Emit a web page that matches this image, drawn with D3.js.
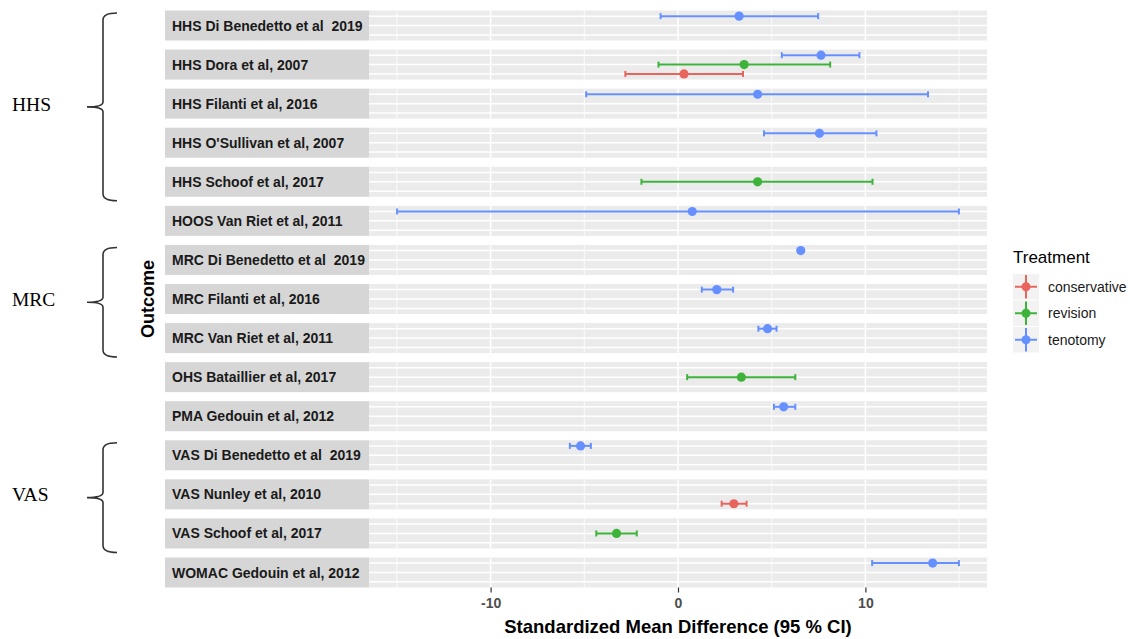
<!DOCTYPE html>
<html>
<head>
<meta charset="utf-8">
<script src="https://cdn.jsdelivr.net/npm/d3@7"></script>
<style>
  body { margin: 0; background: #fff; }
  svg text { font-family: "Liberation Sans", Arial, sans-serif; }
</style>
</head>
<body>
<svg id="chart"></svg>
<script>
// facet rows (top to bottom)
var studies = [
  "HHS Di Benedetto et al  2019",
  "HHS Dora et al, 2007",
  "HHS Filanti et al, 2016",
  "HHS O'Sullivan et al, 2007",
  "HHS Schoof et al, 2017",
  "HOOS Van Riet et al, 2011",
  "MRC Di Benedetto et al  2019",
  "MRC Filanti et al, 2016",
  "MRC Van Riet et al, 2011",
  "OHS Bataillier et al, 2017",
  "PMA Gedouin et al, 2012",
  "VAS Di Benedetto et al  2019",
  "VAS Nunley et al, 2010",
  "VAS Schoof et al, 2017",
  "WOMAC Gedouin et al, 2012"
];

var treatments = ["conservative", "revision", "tenotomy"];
var treatmentColors = ["#E8655E", "#3DB33A", "#6690FF"];

// one entry per estimate
var estStudy = [0, 1, 1, 1, 2, 3, 4, 5, 6, 7, 8, 9, 10, 11, 12, 13, 14];
var estTreatment = ["tenotomy", "tenotomy", "revision", "conservative", "tenotomy", "tenotomy", "revision",
  "tenotomy", "tenotomy", "tenotomy", "tenotomy", "revision", "tenotomy", "tenotomy", "conservative",
  "revision", "tenotomy"];
var smd    = [3.26, 7.63, 3.53, 0.32, 4.25, 7.55, 4.25, 0.76, 6.55, 2.07, 4.78, 3.38, 5.64, -5.20, 2.98, -3.28, 13.59];
var ciLow  = [-0.93, 5.54, -1.04, -2.81, -4.90, 4.59, -1.95, -14.99, 6.47, 1.27, 4.29, 0.49, 5.12, -5.77, 2.33, -4.36, 10.36];
var ciHigh = [7.48, 9.68, 8.12, 3.47, 13.34, 10.59, 10.38, 14.99, 6.63, 2.94, 5.26, 6.26, 6.26, -4.65, 3.66, -2.20, 14.99];

var majorTicks = [-10, 0, 10];
var minorTicks = [-15, -5, 5, 15];

// outcome groups marked with braces
var groupNames = ["HHS", "MRC", "VAS"];
var groupFirst = [0, 6, 11];
var groupLast = [4, 8, 13];

var width = 1130, height = 639;
var panelLeft = 369, panelRight = 987, stripLeft = 165;

var svg = d3.select("#chart").attr("width", width).attr("height", height);

var lo = d3.min(ciLow), hi = d3.max(ciHigh), pad = (hi - lo) * 0.05;
var x = d3.scaleLinear().domain([lo - pad, hi + pad]).range([panelLeft, panelRight]);

var yRow = d3.scaleBand().domain(d3.range(studies.length)).range([10.5, 587.5]).paddingInner(0.232);
var yIn = d3.scalePoint().domain(["tenotomy", "revision", "conservative"]).range([0, yRow.bandwidth()]).padding(0.6);
var color = d3.scaleOrdinal().domain(treatments).range(treatmentColors);

var rows = svg.selectAll("g.row")
  .data(studies)
  .enter()
  .append("g")
  .attr("class", "row")
  .attr("transform", function(d, i) { return "translate(0," + yRow(i) + ")"; });

rows.append("rect")
  .attr("x", panelLeft).attr("width", panelRight - panelLeft)
  .attr("height", yRow.bandwidth())
  .attr("fill", "#ebebeb");

rows.each(function() {
  var g = d3.select(this);
  g.selectAll("line.minor").data(minorTicks).enter().append("line")
    .attr("x1", x).attr("x2", x).attr("y1", 0).attr("y2", yRow.bandwidth())
    .attr("stroke", "#fff").attr("stroke-width", 0.8);
  g.selectAll("line.major").data(majorTicks).enter().append("line")
    .attr("x1", x).attr("x2", x).attr("y1", 0).attr("y2", yRow.bandwidth())
    .attr("stroke", "#fff").attr("stroke-width", 1.5);
  g.selectAll("line.hgrid").data(yIn.domain()).enter().append("line")
    .attr("x1", panelLeft).attr("x2", panelRight)
    .attr("y1", yIn).attr("y2", yIn)
    .attr("stroke", "#fff").attr("stroke-width", 1.5);
});

rows.append("rect")
  .attr("x", stripLeft).attr("width", panelLeft - stripLeft)
  .attr("height", yRow.bandwidth())
  .attr("fill", "#d6d6d6");

rows.append("text")
  .attr("x", stripLeft + 7)
  .attr("y", yRow.bandwidth() / 2)
  .attr("dy", "0.36em")
  .style("white-space", "pre")
  .attr("font-size", 14)
  .attr("font-weight", "bold")
  .attr("fill", "#1a1a1a")
  .text(function(d) { return d; });

// estimates
var est = d3.range(smd.length).map(function(i) {
  return { row: estStudy[i], t: estTreatment[i], m: smd[i], lo: ciLow[i], hi: ciHigh[i] };
});

var marks = svg.selectAll("g.est")
  .data(est)
  .enter()
  .append("g")
  .attr("class", "est")
  .attr("transform", function(d) { return "translate(0," + (yRow(d.row) + yIn(d.t)) + ")"; })
  .attr("stroke", function(d) { return color(d.t); })
  .attr("fill", function(d) { return color(d.t); });

marks.append("line")
  .attr("x1", function(d) { return x(d.lo); })
  .attr("x2", function(d) { return x(d.hi); })
  .attr("stroke-width", 2);
marks.append("line")
  .attr("x1", function(d) { return x(d.lo); })
  .attr("x2", function(d) { return x(d.lo); })
  .attr("y1", -3).attr("y2", 3)
  .attr("stroke-width", 2);
marks.append("line")
  .attr("x1", function(d) { return x(d.hi); })
  .attr("x2", function(d) { return x(d.hi); })
  .attr("y1", -3).attr("y2", 3)
  .attr("stroke-width", 2);
marks.append("circle")
  .attr("cx", function(d) { return x(d.m); })
  .attr("r", 4.6)
  .attr("stroke", "none");

// x axis
var xAxis = svg.append("g")
  .attr("transform", "translate(0,587.5)")
  .call(d3.axisBottom(x).tickValues(majorTicks).tickSize(5).tickPadding(6)
    .tickFormat(function(d) { return String(d); }));
xAxis.select(".domain").remove();
xAxis.selectAll("line").attr("stroke", "#333").attr("stroke-width", 1.2);
xAxis.selectAll("text")
  .attr("font-size", 14).attr("font-weight", "bold").attr("fill", "#4d4d4d")
  .style("font-family", "'Liberation Sans', Arial, sans-serif");

svg.append("text")
  .attr("x", (panelLeft + panelRight) / 2)
  .attr("y", 633)
  .attr("text-anchor", "middle")
  .attr("font-size", 18.5)
  .attr("font-weight", "bold")
  .attr("fill", "#000")
  .text("Standardized Mean Difference (95 % CI)");

svg.append("text")
  .attr("transform", "translate(154,299) rotate(-90)")
  .attr("text-anchor", "middle")
  .attr("font-size", 18)
  .attr("font-weight", "bold")
  .attr("fill", "#000")
  .text("Outcome");

// legend
var legend = svg.append("g").attr("transform", "translate(1013,0)");
legend.append("text")
  .attr("x", 0).attr("y", 263)
  .attr("font-size", 17)
  .attr("fill", "#000")
  .text("Treatment");

var keys = legend.selectAll("g.key")
  .data(treatments)
  .enter()
  .append("g")
  .attr("class", "key")
  .attr("transform", function(d, i) { return "translate(0," + (274 + i * 26.5) + ")"; });

keys.append("rect").attr("width", 26).attr("height", 25.5).attr("fill", "#f2f2f2");
keys.append("line").attr("x1", 2).attr("x2", 24).attr("y1", 12.75).attr("y2", 12.75)
  .attr("stroke", color).attr("stroke-width", 2);
keys.append("line").attr("x1", 13).attr("x2", 13).attr("y1", 1).attr("y2", 24.5)
  .attr("stroke", color).attr("stroke-width", 2);
keys.append("circle").attr("cx", 13).attr("cy", 12.75).attr("r", 4.5).attr("fill", color);
keys.append("text")
  .attr("x", 35).attr("y", 12.75).attr("dy", "0.36em")
  .attr("font-size", 14)
  .attr("fill", "#1a1a1a")
  .text(function(d) { return d; });

// braces for outcome groups
var braceX = 103;
groupNames.forEach(function(name, i) {
  var top = yRow(groupFirst[i]) + 2.5;
  var bot = yRow(groupLast[i]) + yRow.bandwidth() + 4;
  var mid = (top + bot) / 2;
  var p = d3.path();
  p.moveTo(braceX + 14, top);
  p.quadraticCurveTo(braceX, top, braceX, top + 7);
  p.lineTo(braceX, mid - 5);
  p.quadraticCurveTo(braceX, mid, braceX - 16, mid);
  p.quadraticCurveTo(braceX, mid, braceX, mid + 5);
  p.lineTo(braceX, bot - 7);
  p.quadraticCurveTo(braceX, bot, braceX + 14, bot);
  svg.append("path")
    .attr("d", p.toString())
    .attr("fill", "none")
    .attr("stroke", "#333")
    .attr("stroke-width", 1.6);
  svg.append("text")
    .attr("x", 12)
    .attr("y", mid - 3)
    .attr("dy", "0.35em")
    .style("font-family", "'Liberation Serif', 'Times New Roman', serif")
    .attr("font-size", 19.5)
    .attr("fill", "#000")
    .text(name);
});
</script>
</body>
</html>
